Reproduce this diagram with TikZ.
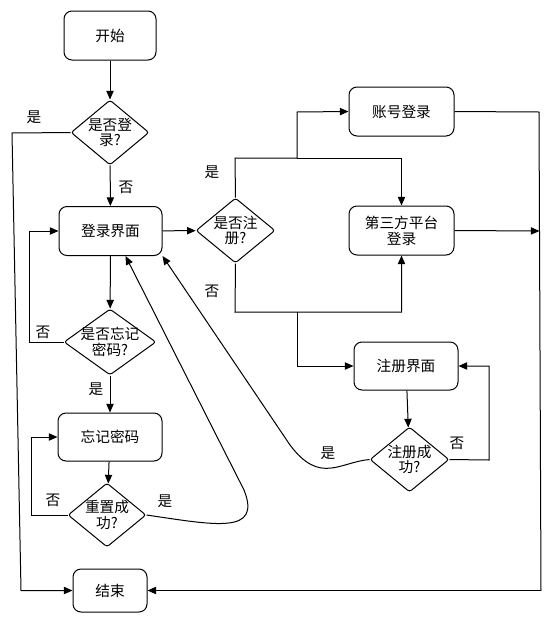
\documentclass[tikz,border=0pt]{standalone}
\usepackage{fontspec}
\setmainfont{Noto Sans CJK SC}
\usetikzlibrary{shapes.geometric,arrows.meta,calc}
\tikzset{
  box/.style={draw, rounded corners=6pt, line width=0.75pt, align=center, font=\fontsize{11}{14}\selectfont},
  dia/.style={draw, diamond, rounded corners=2pt, line width=0.75pt, inner sep=0pt},
  dtxt/.style={align=center, font=\fontsize{11}{11.5}\selectfont, inner sep=0pt},
  lbl/.style={font=\fontsize{11}{12}\selectfont, inner sep=0pt},
  ln/.style={line width=0.75pt},
  arr/.style={line width=0.75pt, -{Triangle[length=6.5pt,width=5.5pt]}},
}
\begin{document}
\begin{tikzpicture}[x=0.75pt,y=-0.75pt]
\useasboundingbox (0,0) rectangle (552,622);
% boxes
\node[box, minimum width=69pt, minimum height=36.75pt] (start) at (110,35.5) {开始};
\node[box, minimum width=77.25pt, minimum height=36.75pt] (login) at (110.5,231) {登录界面};
\node[box, minimum width=78.75pt, minimum height=36.75pt] (acct) at (401.5,111.5) {账号登录};
\node[box, minimum width=78.75pt, minimum height=36.75pt] (third) at (401.5,230.5) {第三方平台\\[-2pt]登录};
\node[box, minimum width=78pt, minimum height=36pt] (reg) at (406,366) {注册界面};
\node[box, minimum width=78pt, minimum height=36pt] (forget) at (110,437) {忘记密码};
\node[box, minimum width=55.5pt, minimum height=32.25pt] (end) at (110,590.5) {结束};
% diamonds
\node[dia, minimum width=58.5pt, minimum height=48.75pt] (dlogin) at (110,132.5) {};
\node[dtxt] (tdlogin) at (dlogin.center) {是否登\\录?};
\node[dia, minimum width=59.25pt, minimum height=48.75pt] (dreg) at (235.5,230.5) {};
\node[dtxt] (tdreg) at (dreg.center) {是否注\\册?};
\node[dia, minimum width=69pt, minimum height=49.5pt] (dforget) at (110,342) {};
\node[dtxt] (tdforget) at (dforget.center) {是否忘记\\密码?};
\node[dia, minimum width=58.5pt, minimum height=48pt] (dreset) at (107,515) {};
\node[dtxt] (tdreset) at (dreset.center) {重置成\\功?};
\node[dia, minimum width=59.25pt, minimum height=48.75pt] (dregok) at (409.5,459.5) {};
\node[dtxt] (tdregok) at (dregok.center) {注册成\\功?};
% helper coordinates
\coordinate (l1) at (12,133);
\coordinate (l2) at (21,590.5);
\coordinate (r1) at (539,112);
\coordinate (r2) at (541,590.5);
\coordinate (r3) at (539.5,231);
\coordinate (y1) at (235,158);
\coordinate (y2) at (297,158);
\coordinate (y3) at (297,112);
\coordinate (n1) at (235,312);
\coordinate (n2) at (297,312);
% connectors
\draw[arr] (start) -- (dlogin);
\draw[arr] (dlogin.west) -- (l1) -- (l2) -- (end.west);
\draw[arr] (dlogin) -- (login);
\draw[arr] (login) -- (dreg);
\draw[arr] (dreg.north) -- (y1) -- (y2) -- (y3) -- (acct.west);
\draw[arr] (y2) -| (third.north);
\draw[arr] (dreg.south) -- (n1) -| (third.south);
\draw[arr] (n2) |- (reg.west);
\draw[ln] (acct.east) -- (r1) -- (r2);
\draw[arr] (r2) -- (end.east);
\draw[arr] (third.east) -- (r3);
\draw[arr] (reg) -- (dregok);
\draw[arr] (dregok.east) -- (489,460) |- (reg.east);
\draw[arr] (dregok.west) .. controls (340,462) and (320,485) .. (290,445) -- (login.south east);
\draw[arr] (login) -- (dforget);
\draw[arr] (dforget.west) -- (29,342) -- (29,231) -- (login.west);
\draw[arr] (dforget) -- (forget);
\draw[arr] (forget) -- (dreset);
\draw[arr] (dreset.west) -- (31,515) |- (forget.west);
\draw[arr] (dreset.east) .. controls (215,525) and (262,535) .. (244,490) -- ($(login.south)+(15,0)$);
% labels
\node[lbl] (a1) at (34,117) {是};
\node[lbl] (a2) at (126,187) {否};
\node[lbl] (a3) at (212,172) {是};
\node[lbl] (a4) at (212,291) {否};
\node[lbl] (a5) at (43,332) {否};
\node[lbl] (a6) at (96,389) {是};
\node[lbl] (a7) at (53,500) {否};
\node[lbl] (a8) at (165,501) {是};
\node[lbl] (a9) at (328,453) {是};
\node[lbl] (a10) at (457,443) {否};
\end{tikzpicture}
\end{document}
